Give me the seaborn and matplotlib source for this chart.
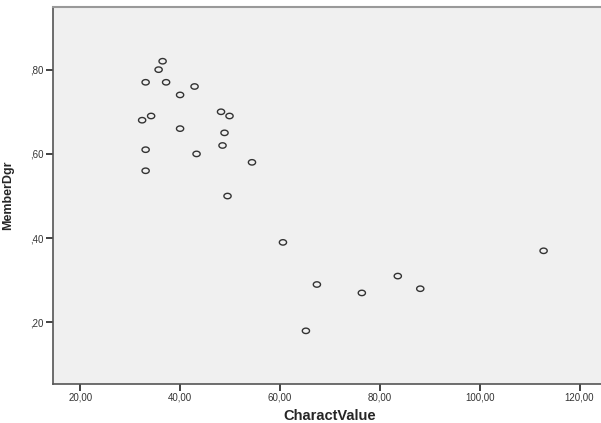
import numpy as np
import pandas as pd
import seaborn as sns
from matplotlib import pyplot as plt
from matplotlib.path import Path
from matplotlib.ticker import FuncFormatter

charact_value = [36.5, 35.7, 33.1, 37.2, 42.9, 40.0, 32.4, 34.2, 48.2, 49.9,
                 40.0, 48.9, 48.5, 33.1, 43.3, 33.1, 54.4, 49.5, 60.6, 65.2,
                 67.4, 76.4, 83.6, 88.1, 112.8]
member_dgr = [0.82, 0.80, 0.77, 0.77, 0.76, 0.74, 0.68, 0.69, 0.70, 0.69,
              0.66, 0.65, 0.62, 0.61, 0.60, 0.56, 0.58, 0.50, 0.39, 0.18,
              0.29, 0.27, 0.31, 0.28, 0.37]

df = pd.DataFrame({'CharactValue': charact_value, 'MemberDgr': member_dgr})

sns.set_style('ticks', {'xtick.bottom': True, 'ytick.left': True})
plt.rcParams['font.family'] = ['Liberation Sans', 'DejaVu Sans']
plt.rcParams['xtick.major.size'] = 5
plt.rcParams['ytick.major.size'] = 5
plt.rcParams['xtick.major.width'] = 1.2
plt.rcParams['ytick.major.width'] = 1.2
plt.rcParams['xtick.color'] = '#222222'
plt.rcParams['ytick.color'] = '#222222'

# slightly flattened circle, like the SPSS marker
t = np.linspace(0, 2 * np.pi, 40)
ellipse = Path(np.column_stack([np.cos(t), 0.75 * np.sin(t)]), closed=True)

fig = plt.figure(figsize=(6.01, 4.23), dpi=100)
ax = fig.add_axes([53/601, 1 - 383.5/423, 1 - 53/601 + 0.01, (383.5 - 7.3)/423])
ax.set_facecolor('#f0f0f0')

sns.scatterplot(data=df, x='CharactValue', y='MemberDgr', ax=ax,
                marker=ellipse, s=27, facecolor='none', edgecolor='#333333',
                linewidth=1.0)

ax.set_xlim(14.55, 125.5)
ax.set_ylim(0.055, 0.948)
ax.set_xticks([20, 40, 60, 80, 100, 120])
ax.set_yticks([0.2, 0.4, 0.6, 0.8])
ax.xaxis.set_major_formatter(FuncFormatter(lambda v, p: f'{v:.2f}'.replace('.', ',')))
ax.yaxis.set_major_formatter(FuncFormatter(lambda v, p: f'{v:.2f}'.lstrip('0').replace('.', ',')))
ax.tick_params(axis='both', which='major', bottom=True, left=True, top=False,
               right=False, direction='out', length=5, width=1.2,
               color='#222222', labelsize=7, labelcolor='#333333', pad=1.5)

for side in ['left', 'bottom']:
    ax.spines[side].set_color('#555555')
    ax.spines[side].set_linewidth(1.2)
ax.spines['top'].set_visible(True)
ax.spines['top'].set_color('#999999')
ax.spines['top'].set_linewidth(1.5)
ax.spines['right'].set_visible(False)

ax.set_xlabel('CharactValue', fontsize=10.5, fontweight='bold', labelpad=5)
ax.set_ylabel('MemberDgr', fontsize=9, fontweight='bold', labelpad=12)

fig.savefig('out.png', dpi=100)
